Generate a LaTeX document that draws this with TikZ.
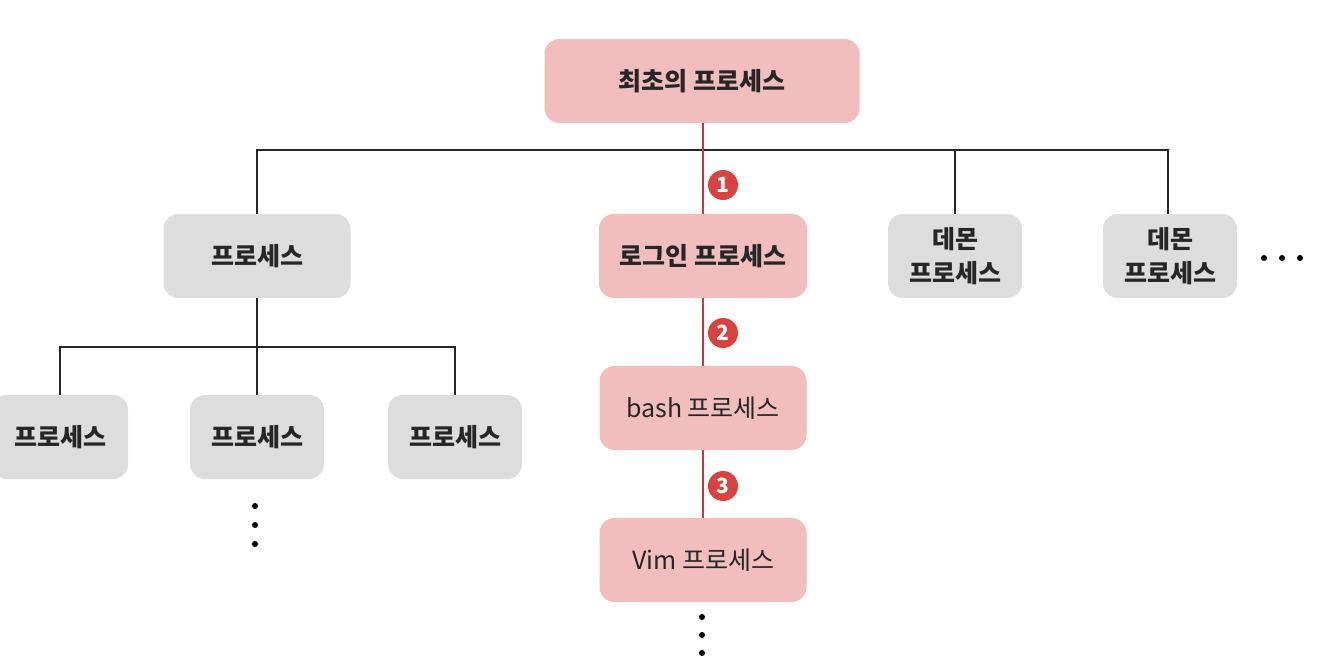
\documentclass[tikz,border=0pt]{standalone}
\usepackage{fontspec}
\setmainfont{Noto Sans CJK KR}
\begin{document}
\begin{tikzpicture}[x=1pt,y=-1pt,
  box/.style={rounded corners=15pt, minimum height=84pt, inner sep=0pt, align=center, font=\fontsize{25}{34}\selectfont\bfseries, text=black!85},
  pinkbox/.style={box, fill=boxpink},
  graybox/.style={box, fill=boxgray},
  tree/.style={line width=1.6pt, black!85},
  redline/.style={line width=1.6pt, linered},
  badge/.style={circle, fill=badgered, text=white, inner sep=0pt, minimum size=30pt, font=\fontsize{21}{21}\selectfont\bfseries},
  dot/.style={circle, fill=black, inner sep=0pt, minimum size=6pt}
]
\definecolor{boxpink}{HTML}{F2BDBD}
\definecolor{boxgray}{HTML}{DCDDDC}
\definecolor{badgered}{HTML}{D9423E}
\definecolor{linered}{HTML}{C8353A}
\useasboundingbox (0,0) rectangle (1332,662);

\node[pinkbox, minimum width=315pt] (root) at (702,81) {최초의 프로세스};
\node[graybox, minimum width=187pt] (p1) at (257,256) {프로세스};
\node[pinkbox, minimum width=208pt] (login) at (703,256) {로그인 프로세스};
\node[graybox, minimum width=134pt] (d1) at (955,256) {데몬\\프로세스};
\node[graybox, minimum width=134pt] (d2) at (1170,256) {데몬\\프로세스};
\node[graybox, minimum width=136pt] (c1) at (60,437) {프로세스};
\node[graybox, minimum width=134pt] (c2) at (257,437) {프로세스};
\node[graybox, minimum width=134pt] (c3) at (455,437) {프로세스};
\node[pinkbox, minimum width=207pt] (bash) at (703,408) {\fontseries{m}\selectfont bash 프로세스};
\node[pinkbox, minimum width=207pt] (vim) at (703,560) {\fontseries{m}\selectfont Vim 프로세스};

\coordinate (hl) at (257,150);
\coordinate (hr) at (1168,150);
\draw[tree] (p1.north) -- (hl) -- (hr) -- (hr |- d2.north);
\draw[tree] (d1.north |- hl) -- (d1.north);
\coordinate (bl) at (60,347);
\coordinate (br) at (455,347);
\draw[tree] (p1.south) -- (c2.north);
\draw[tree] (c1.north) -- (bl) -- (br) -- (c3.north);

\draw[redline] (root.south -| login.north) -- (login.north);
\draw[redline] (login.south) -- (bash.north);
\draw[redline] (bash.south) -- (vim.north);

\node[badge] (b1) at (723,185) {1};
\node[badge] (b2) at (723,333) {2};
\node[badge] (b3) at (723,486) {3};

\foreach \y [count=\i] in {506,525,544} \node[dot] (la\i) at (255,\y) {};
\foreach \y [count=\i] in {617,635,653} \node[dot] (lb\i) at (702,\y) {};
\foreach \x [count=\i] in {1264,1282,1300} \node[dot] (r\i) at (\x,258) {};
\end{tikzpicture}
\end{document}
